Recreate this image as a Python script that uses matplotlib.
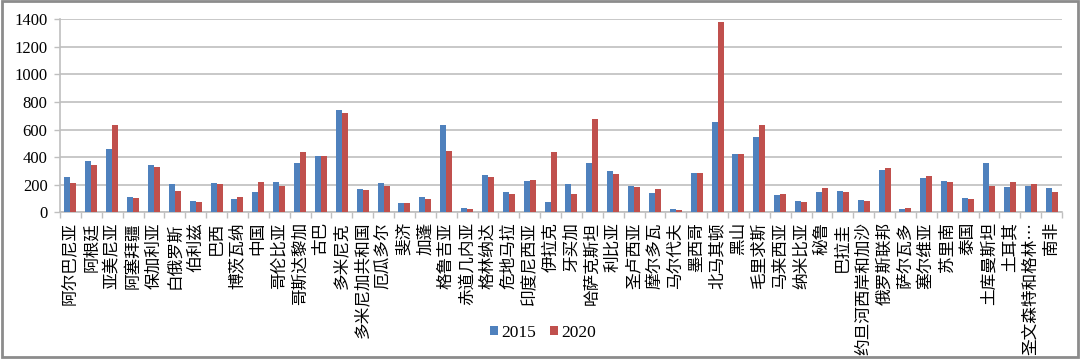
import matplotlib
matplotlib.use('Agg')
import matplotlib.pyplot as plt
import numpy as np
from matplotlib.patches import Rectangle

countries = ['阿尔巴尼亚', '阿根廷', '亚美尼亚', '阿塞拜疆', '保加利亚', '白俄罗斯', '伯利兹', '巴西',
             '博茨瓦纳', '中国', '哥伦比亚', '哥斯达黎加', '古巴', '多米尼克', '多米尼加共和国', '厄瓜多尔',
             '斐济', '加蓬', '格鲁吉亚', '赤道几内亚', '格林纳达', '危地马拉', '印度尼西亚', '伊拉克',
             '牙买加', '哈萨克斯坦', '利比亚', '圣卢西亚', '摩尔多瓦', '马尔代夫', '墨西哥', '北马其顿',
             '黑山', '毛里求斯', '马来西亚', '纳米比亚', '秘鲁', '巴拉圭', '约旦河西岸和加沙', '俄罗斯联邦',
             '萨尔瓦多', '塞尔维亚', '苏里南', '泰国', '土库曼斯坦', '土耳其', '圣文森特和格林…', '南非']

v2015 = [259, 370, 459, 114, 341, 203, 82, 213, 97, 147, 218, 358, 409, 742, 172, 213,
         70, 109, 633, 29, 271, 145, 230, 75, 203, 358, 300, 193, 138, 22, 283, 653,
         421, 549, 128, 82, 145, 155, 87, 305, 27, 247, 230, 104, 358, 184, 193, 179]
v2020 = [215, 346, 633, 102, 329, 155, 75, 203, 109, 218, 193, 438, 409, 720, 160, 193,
         70, 97, 442, 22, 259, 133, 235, 438, 133, 675, 278, 184, 172, 17, 283, 1378,
         421, 633, 133, 75, 179, 145, 82, 322, 34, 266, 218, 97, 193, 218, 203, 150]

blue = '#4F81BD'
red = '#C0504D'
grid_c = '#BFBFBF'

fig = plt.figure(figsize=(10.8, 3.59), dpi=100)
ax = fig.add_axes([60/1080, 1-212.3/359, 1002/1080, 193/359])

x = np.arange(len(countries))
w = 1/3.5
ax.bar(x - w/2, v2015, w, color=blue, label='2015', zorder=3)
ax.bar(x + w/2, v2020, w, color=red, label='2020', zorder=3)

ax.set_xlim(-0.5, len(countries) - 0.5)
ax.set_ylim(0, 1400)
ax.set_yticks(range(0, 1401, 200))
ax.yaxis.grid(True, color=grid_c, linewidth=1.2, zorder=0)

for s in ['top', 'right']:
    ax.spines[s].set_visible(False)
for s in ['left', 'bottom']:
    ax.spines[s].set_color(grid_c)
    ax.spines[s].set_linewidth(1.2)

ax.set_xticks(x)
ax.set_xticklabels(countries, rotation=90, family=['Noto Sans CJK SC', 'DejaVu Sans'], fontsize=12)
ax.set_xticks(np.arange(-0.5, len(countries), 1), minor=True)
ax.tick_params(axis='x', which='major', length=0, pad=7)
ax.tick_params(axis='x', which='minor', length=4, color=grid_c, width=1)
ax.tick_params(axis='y', length=4, color=grid_c, width=1, pad=5)
for t in ax.get_yticklabels():
    t.set_family('Liberation Serif')
    t.set_fontsize(12)

leg = fig.legend(loc='center', bbox_to_anchor=(0.503, 1-333/359), ncol=2, frameon=False,
                 prop={'family': 'Liberation Serif', 'size': 12.5},
                 handlelength=0.45, handleheight=0.45, handletextpad=0.2, columnspacing=0.8)

fig.patches.append(Rectangle((0.002, 0.006), 0.996, 0.99, transform=fig.transFigure,
                             fill=False, edgecolor='#8C8C8C', linewidth=2))

fig.savefig('out.png', dpi=100)
